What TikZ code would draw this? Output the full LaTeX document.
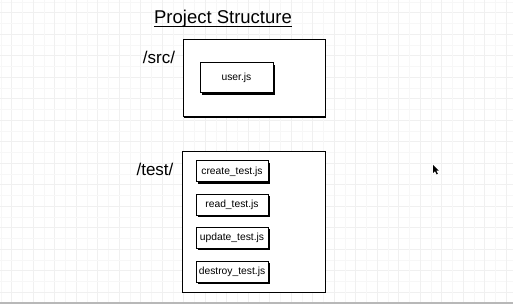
\documentclass[tikz,border=0pt]{standalone}
\usepackage{fontspec}
\setmainfont{Liberation Sans}
\usetikzlibrary{calc,shadows}

\tikzset{
  gridminor/.style={draw=black!3, line width=0.6pt},
  gridmajor/.style={draw=black!6, line width=0.8pt},
  folderbox/.style={draw=black, line width=1pt, fill=white, inner sep=0pt,
    drop shadow={shadow xshift=0.8pt, shadow yshift=-0.8pt, fill=black, opacity=1}},
  filebox/.style={draw=black, line width=1pt, fill=white, inner sep=0pt,
    minimum width=72pt, minimum height=21pt, font=\fontsize{10.3}{12}\selectfont,
    drop shadow={shadow xshift=1.6pt, shadow yshift=-1.6pt, fill=black, opacity=1}},
  dirlabel/.style={font=\fontsize{17}{20}\selectfont, inner sep=0pt}
}

\begin{document}
\begin{tikzpicture}[x=1pt,y=-1pt]
  % canvas
  \fill[white] (0,0) rectangle (513,304);
  \useasboundingbox (0,0) rectangle (513,304);

  % sketch-paper grid
  \foreach \i in {0,...,48} {
    \pgfmathsetmacro{\gx}{0.95+\i*10.75}
    \pgfmathsetmacro{\gy}{1.95+\i*10.75}
    \ifodd\i
      \draw[gridmajor] (\gx,0) -- (\gx,304);
      \draw[gridmajor] (0,\gy) -- (513,\gy);
    \else
      \draw[gridminor] (\gx,0) -- (\gx,304);
      \draw[gridminor] (0,\gy) -- (513,\gy);
    \fi
  }

  % bottom strip
  \fill[black!28] (0,301.5) rectangle (513,304);

  % heading
  \node[anchor=base, inner sep=0pt, font=\fontsize{18.5}{21}\selectfont]
    (title) at (223,24) {Project Structure};
  \draw[line width=1.3pt] ($(title.base west)+(0,2.8)$) -- ($(title.base east)+(0,2.8)$);

  % source folder
  \node[dirlabel] (srclabel) at (159,57) {/src/};
  \node[folderbox, minimum width=142pt, minimum height=77pt] (srcbox) at (254,78.5) {};
  \node[filebox, minimum width=73pt, minimum height=30pt] (userjs) at (236.5,78) {user.js};

  % test folder
  \node[dirlabel] (testlabel) at (155,169) {/test/};
  \node[folderbox, minimum width=143pt, minimum height=140pt] (testbox) at (253.5,222) {};
  \node[filebox] (create)  at (232,171.5) {create\_test.js};
  \node[filebox] (read)    at (232,205)   {read\_test.js};
  \node[filebox] (update)  at (232,238)   {update\_test.js};
  \node[filebox] (destroy) at (232,272)   {destroy\_test.js};

  % mouse pointer
  \fill[black] (433,165) -- (433,173) -- (435,171.2) -- (436.6,174.4) -- (437.8,173.8)
    -- (436.3,170.7) -- (438.8,170.7) -- cycle;
\end{tikzpicture}
\end{document}
